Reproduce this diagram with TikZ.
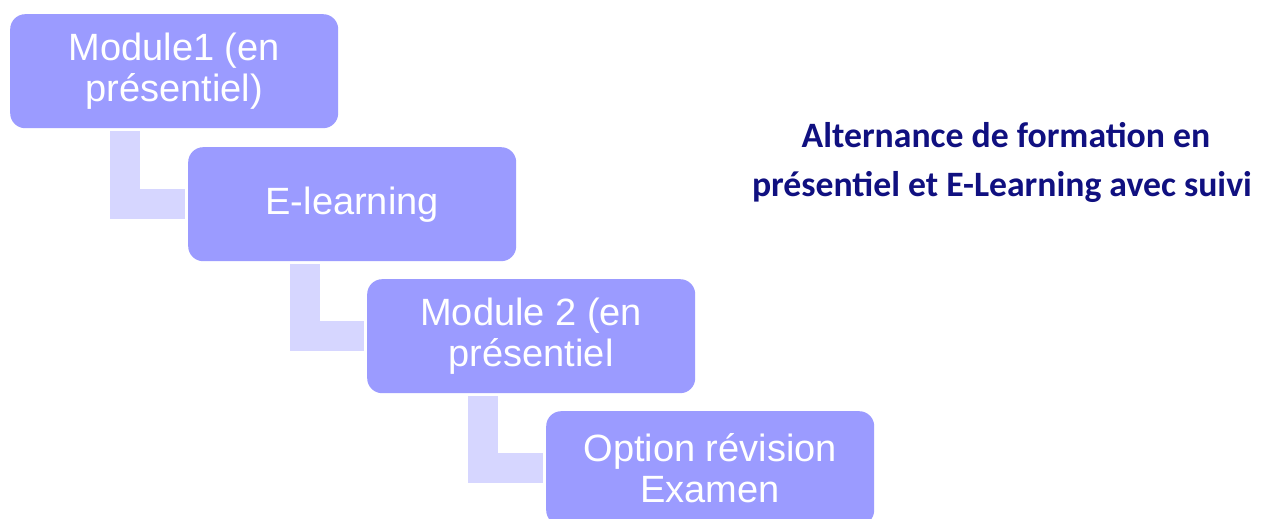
\documentclass[tikz,border=0pt]{standalone}
\usepackage{fontspec}
\setmainfont{Liberation Sans}
\newfontfamily\titlefont{Carlito}
\definecolor{boxc}{RGB}{155,155,255}
\definecolor{connc}{RGB}{214,214,255}
\definecolor{titlec}{RGB}{16,16,128}
\begin{document}
\begin{tikzpicture}[x=1pt,y=-1pt,
  box/.style={fill=boxc, rounded corners=15pt, minimum width=328pt, minimum height=114pt,
    text=white, font=\fontsize{38}{41}\selectfont, align=center, inner sep=0pt, anchor=north west},
  conn/.style={draw=connc, line width=30pt, line cap=butt, line join=miter},
  ttl/.style={text=titlec, font=\titlefont\bfseries\fontsize{35.7}{40}\selectfont, anchor=base}]
\useasboundingbox (0,0) rectangle (1280,519);
\node[box] (b1) at (10,14) {Module1 (en\\présentiel)};
\node[box] (b2) at (188,147) {E-learning};
\node[box] (b3) at (367,279) {Module 2 (en\\présentiel};
\node[box] (b4) at (546,411) {Option révision\\Examen};
\draw[conn] ([xshift=115pt,yshift=-3pt]b1.south west) |- ([xshift=-3pt]b2.west);
\draw[conn] ([xshift=116.5pt,yshift=-3pt]b2.south west) |- ([xshift=-3pt]b3.west);
\draw[conn] ([xshift=115.5pt,yshift=-3pt]b3.south west) |- ([xshift=-3pt]b4.west);
\node[ttl] (t1) at (1006,147) {Alternance de formation en};
\node[ttl] (t2) at (1002,196) {présentiel et E-Learning avec suivi};
\end{tikzpicture}
\end{document}
